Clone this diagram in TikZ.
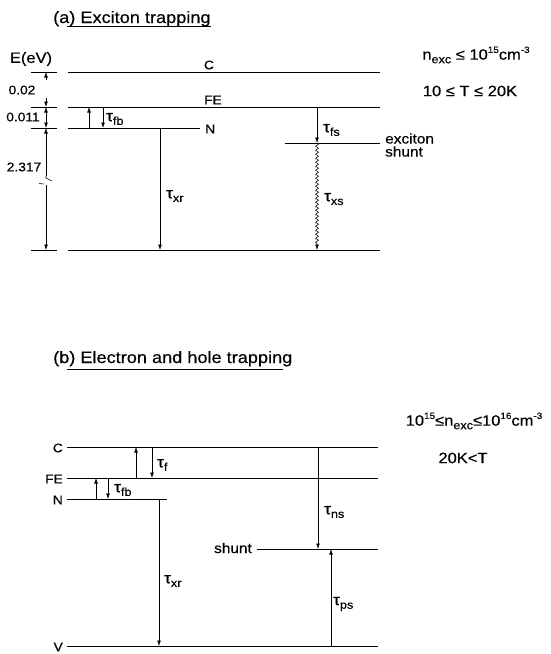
\documentclass[tikz,border=0pt]{standalone}
\usepackage{fontspec}
\setmainfont{Liberation Sans}[FakeStretch=1.1,FakeBold=0.4]
\usetikzlibrary{arrows.meta,decorations.pathmorphing}
\newcommand{\fsz}[1]{\fontsize{#1}{#1}\selectfont}
\newcommand{\taul}[1]{τ\raisebox{-0.45ex}{\fsz{11.5}#1}}
\newcommand{\lsub}[1]{\raisebox{-0.45ex}{\fsz{11.5}#1}}
\newcommand{\lsup}[1]{\raisebox{0.85ex}{\fsz{9}#1}}
\begin{document}
\begin{tikzpicture}[x=1pt,y=-1pt,
  level/.style={line width=0.75pt},
  arr/.style={line width=0.55pt,-{Latex[length=5.5pt,width=3.8pt]}},
  wavy/.style={line width=0.55pt,-{Latex[length=5.5pt,width=3.8pt]},
    decorate,decoration={snake,amplitude=1.5pt,segment length=4pt,post length=5.5pt}},
  lvl/.style={inner sep=0pt,font=\fsz{12.5}},
  num/.style={inner sep=0pt,font=\fsz{12.5}},
  tau/.style={inner sep=0pt,font=\fsz{15.5},anchor=west},
  big/.style={inner sep=0pt,font=\fsz{15}},
  ttl/.style={inner sep=0pt,font=\fsz{16.5},anchor=base west}]
\useasboundingbox (0,0) rectangle (551,654);

% ---------------- (a) ----------------
\node[ttl] (ta) at (53,23) {(a) Exciton trapping};
\coordinate (ua0) at (67,26); \coordinate (ua1) at (211,26);
\draw[line width=0.6pt] (ua0) -- (ua1);

\coordinate (aC0) at (68,72);   \coordinate (aC1) at (380,72);
\coordinate (aF0) at (68,107);  \coordinate (aF1) at (380,107);
\coordinate (aN0) at (68,128);  \coordinate (aN1) at (200,128);
\coordinate (aS0) at (285,143); \coordinate (aS1) at (380,143);
\coordinate (aG0) at (68,250);  \coordinate (aG1) at (380,250);
\foreach \l in {aC,aF,aN,aS,aG} \draw[level] (\l0) -- (\l1);

% left scale
\coordinate (k1a) at (31,72);  \coordinate (k1b) at (57,72);
\coordinate (k2a) at (31,107); \coordinate (k2b) at (57,107);
\coordinate (k3a) at (31,128); \coordinate (k3b) at (57,128);
\coordinate (k4a) at (31,250); \coordinate (k4b) at (57,250);
\foreach \k in {k1,k2,k3,k4} \draw[level] (\k a) -- (\k b);
\coordinate (s1) at (46,80);  \coordinate (s2) at (46,98);
\coordinate (s3) at (46,117); \coordinate (s4) at (46,176);
\coordinate (s5) at (46,185);
\draw[arr] (s1) -- (46,72);
\draw[arr] (s2) -- (46,107);
\draw[arr] (s3) -- (46,107);
\draw[arr] (s3) -- (46,128);
\draw[arr] (s4) -- (46,128);
\draw[arr] (s5) -- (46,250);
\draw[line width=0.55pt] (s4) -- (46,178) -- (52,181);
\draw[line width=0.55pt] (39,183.5) -- (44,184);
\node[big] (eev) at (31,59) {E(eV)};
\node[num] (n1) at (22,90) {0.02};
\node[num] (n2) at (23,117) {0.011};
\node[num] (n3) at (24,167) {2.317};

\node[lvl] (lC) at (209,65) {C};
\node[lvl] (lFE) at (213,100) {FE};
\node[lvl,anchor=west] (lN) at (205,129) {N};

% transitions
\coordinate (fbu0) at (89,128);  \coordinate (fbu1) at (89,107);
\coordinate (fbd0) at (103,107); \coordinate (fbd1) at (103,128);
\draw[arr] (fbu0) -- (fbu1);
\draw[arr] (fbd0) -- (fbd1);
\node[tau] (tfb) at (106,119) {\taul{fb}};
\coordinate (xr0) at (160,128); \coordinate (xr1) at (160,250);
\draw[arr] (xr0) -- (xr1);
\node[tau] (txr) at (166,196) {\taul{xr}};
\coordinate (fs0) at (317,107); \coordinate (fs1) at (317,143);
\draw[arr] (fs0) -- (fs1);
\node[tau] (tfs) at (323,130) {\taul{fs}};
\coordinate (xs1) at (317,250);
\draw[wavy] (fs1) -- (xs1);
\node[tau] (txs) at (324,199) {\taul{xs}};
\node[inner sep=0pt,font=\fsz{14},anchor=west,align=left] (exs) at (385,145) {exciton\\[-1pt]shunt};

\node[big] (cnd1) at (476,55) {n\lsub{exc} ≤ 10\lsup{15}cm\lsup{-3}};
\node[big] (cnd2) at (470,91) {10 ≤ T ≤ 20K};

% ---------------- (b) ----------------
\node[ttl] (tb) at (53,363) {(b) Electron and hole trapping};
\coordinate (ub0) at (67,369); \coordinate (ub1) at (283,369);
\draw[line width=0.6pt] (ub0) -- (ub1);

\coordinate (bC0) at (67,447);  \coordinate (bC1) at (378,447);
\coordinate (bF0) at (67,478);  \coordinate (bF1) at (378,478);
\coordinate (bN0) at (67,499);  \coordinate (bN1) at (167,499);
\coordinate (bS0) at (257,549); \coordinate (bS1) at (378,549);
\coordinate (bV0) at (67,646);  \coordinate (bV1) at (378,646);
\foreach \l in {bC,bF,bN,bS,bV} \draw[level] (\l0) -- (\l1);

\node[lvl,anchor=east] (bLC) at (63,448) {C};
\node[lvl,anchor=east] (bLF) at (63,479) {FE};
\node[lvl,anchor=east] (bLN) at (63,500) {N};
\node[lvl,anchor=east] (bLV) at (63,647) {V};
\node[inner sep=0pt,font=\fsz{14},anchor=east] (bLS) at (252,548) {shunt};

\coordinate (fu0) at (136,478); \coordinate (fu1) at (136,447);
\coordinate (fd0) at (152,447); \coordinate (fd1) at (152,478);
\draw[arr] (fu0) -- (fu1);
\draw[arr] (fd0) -- (fd1);
\node[tau] (btf) at (157,465) {\taul{f}};
\coordinate (bfu0) at (96,499);  \coordinate (bfu1) at (96,478);
\coordinate (bfd0) at (108,478); \coordinate (bfd1) at (108,499);
\draw[arr] (bfu0) -- (bfu1);
\draw[arr] (bfd0) -- (bfd1);
\node[tau] (btfb) at (114,490) {\taul{fb}};
\coordinate (bxr0) at (159,499); \coordinate (bxr1) at (159,646);
\draw[arr] (bxr0) -- (bxr1);
\node[tau] (btxr) at (164,581) {\taul{xr}};
\coordinate (ns0) at (318,447); \coordinate (ns1) at (318,549);
\draw[arr] (ns0) -- (ns1);
\node[tau] (btns) at (324,512) {\taul{ns}};
\coordinate (ps0) at (331,646); \coordinate (ps1) at (331,549);
\draw[arr] (ps0) -- (ps1);
\node[tau] (btps) at (333,604) {\taul{ps}};

\node[big] (cnd3) at (474,421) {10\lsup{15}≤n\lsub{exc}≤10\lsup{16}cm\lsup{-3}};
\node[big] (cnd4) at (463,458) {20K<T};
\end{tikzpicture}
\end{document}
